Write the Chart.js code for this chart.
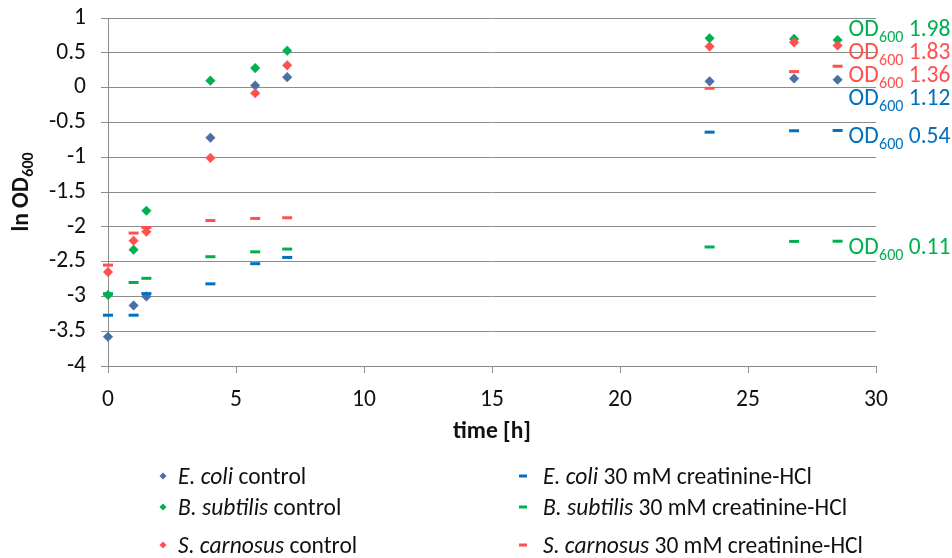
<!DOCTYPE html>
<html>
<head>
<meta charset="utf-8">
<script src="https://cdn.jsdelivr.net/npm/chart.js@4/dist/chart.umd.min.js"></script>
<style>
  html, body { margin: 0; padding: 0; background: #fff; }
  #wrap { position: relative; width: 952px; height: 558px; overflow: hidden; }
  #chart { position: absolute; left: 0; top: 0; }
  #legend { position: absolute; left: 0; top: 0; width: 952px; height: 558px; pointer-events: none;
            font-family: Carlito, "Open Sans", sans-serif; font-size: 23.5px; color: #111; }
  .item { position: absolute; white-space: nowrap; transform: translateY(-50%); line-height: 28px; }
  .mark { position: absolute; }
  .diamond { width: 5px; height: 5px; transform: translate(-50%, -50%) rotate(45deg); }
  .dash { width: 8px; height: 3px; transform: translate(-50%, -50%); }
</style>
</head>
<body>
<div id="wrap">
  <canvas id="chart" width="952" height="460"></canvas>
  <div id="legend"></div>
</div>
<script>
// Sampling times [h]
const hours = [0, 1, 1.5, 4, 5.75, 7, 23.5, 26.8, 28.5];

// Strains and growth conditions
const species = ['E. coli', 'B. subtilis', 'S. carnosus'];
const conditions = [' control', ' 30 mM creatinine-HCl'];

// ln OD600 per strain, without additive
const ecoliControl  = [-3.58, -3.13, -3.00, -0.72, 0.03, 0.15, 0.09, 0.13, 0.113];
const bsubControl   = [-2.98, -2.33, -1.77, 0.10, 0.28, 0.53, 0.71, 0.70, 0.683];
const scarnControl  = [-2.65, -2.20, -2.07, -1.01, -0.08, 0.32, 0.59, 0.65, 0.604];

// ln OD600 per strain, with 30 mM creatinine-HCl
const ecoliCreat    = [-3.27, -3.27, -2.96, -2.82, -2.53, -2.44, -0.64, -0.62, -0.616];
const bsubCreat     = [-2.96, -2.80, -2.74, -2.43, -2.36, -2.32, -2.29, -2.21, -2.207];
const scarnCreat    = [-2.55, -2.09, -2.01, -1.91, -1.88, -1.87, -0.01, 0.23, 0.307];

// Axis ranges
const yRange = { min: -4, max: 1, step: 0.5 };
const xRange = { min: 0, max: 30, step: 5 };

const FONT = 'Carlito, "Open Sans", sans-serif';
const FS = 23.5;
const TEXT = '#111';
const GRID = '#8c8c8c';

const BLUE_MARK = '#4a6fa8';
const BLUE = '#0070c0';
const GREEN = '#00b050';
const RED = '#ff5050';

function points(values) {
  return hours.map((h, i) => ({ x: h, y: values[i] }));
}

function controlSet(i, values, color) {
  return {
    label: species[i] + conditions[0],
    data: points(values),
    pointStyle: 'rectRot',
    pointRadius: 4.8,
    pointHoverRadius: 4.8,
    backgroundColor: color,
    borderColor: color,
    borderWidth: 0.5,
    clip: false,
    order: 10 - i
  };
}

function creatSet(i, values, color) {
  return {
    label: species[i] + conditions[1],
    data: points(values),
    pointStyle: 'line',
    pointRadius: 5,
    pointHoverRadius: 5,
    backgroundColor: color,
    borderColor: color,
    borderWidth: 3,
    clip: false,
    order: 10 - i - 3
  };
}

const datasets = [
  controlSet(0, ecoliControl, BLUE_MARK),
  controlSet(1, bsubControl, GREEN),
  controlSet(2, scarnControl, RED),
  creatSet(0, ecoliCreat, BLUE),
  creatSet(1, bsubCreat, GREEN),
  creatSet(2, scarnCreat, RED)
];
// colours for the end-point OD600 annotations
const labelColors = [BLUE, GREEN, RED, BLUE, GREEN, RED];

// Text with a "600" subscript after a main part
function drawSubText(ctx, x, y, main, sub, tail, bold, subShift) {
  const w = bold ? 'bold ' : '';
  ctx.font = w + FS + 'px ' + FONT;
  ctx.fillText(main, x, y);
  let cx = x + ctx.measureText(main).width + 0.5;
  ctx.font = w + Math.round(FS * 0.68) + 'px ' + FONT;
  ctx.fillText(sub, cx, y + subShift);
  cx += ctx.measureText(sub).width;
  if (tail) {
    ctx.font = w + FS + 'px ' + FONT;
    ctx.fillText(tail, cx, y);
  }
}
function subTextWidth(ctx, main, sub, tail, bold) {
  const w = bold ? 'bold ' : '';
  ctx.font = w + FS + 'px ' + FONT;
  let total = ctx.measureText(main).width + 0.5;
  ctx.font = w + Math.round(FS * 0.68) + 'px ' + FONT;
  total += ctx.measureText(sub).width;
  if (tail) { ctx.font = w + FS + 'px ' + FONT; total += ctx.measureText(tail).width; }
  return total;
}

// Final OD600 labels next to the last point of every series, spread so they don't collide
const endLabels = {
  id: 'endLabels',
  afterDatasetsDraw(chart) {
    const ctx = chart.ctx;
    const GAP = 23, DROP = 5;
    const items = chart.data.datasets.map((ds, i) => {
      const meta = chart.getDatasetMeta(i);
      const el = meta.data[meta.data.length - 1];
      const v = ds.data[ds.data.length - 1].y;
      return { x: el.x, want: el.y + DROP, od: Math.exp(v).toFixed(2), color: labelColors[i] };
    }).sort((a, b) => a.want - b.want);

    let groups = items.map(it => ({ items: [it], center: it.want }));
    let merged = true;
    while (merged) {
      merged = false;
      for (let i = 0; i < groups.length - 1; i++) {
        const g = groups[i], h = groups[i + 1];
        const gEnd = g.center + (g.items.length - 1) * GAP / 2;
        const hStart = h.center - (h.items.length - 1) * GAP / 2;
        if (hStart - gEnd < GAP) {
          const all = g.items.concat(h.items);
          const c = all.reduce((s, it) => s + it.want, 0) / all.length;
          groups.splice(i, 2, { items: all, center: c });
          merged = true;
          break;
        }
      }
    }
    ctx.save();
    ctx.textAlign = 'left';
    ctx.textBaseline = 'alphabetic';
    groups.forEach(g => {
      g.items.forEach((it, k) => {
        const y = g.center + (k - (g.items.length - 1) / 2) * GAP;
        ctx.fillStyle = it.color;
        drawSubText(ctx, it.x + 11, y + 7.5, 'OD', '600', ' ' + it.od, false, 6.5);
      });
    });
    ctx.restore();
  }
};

// Rotated y-axis title with subscript
const yTitle = {
  id: 'yTitle',
  afterDraw(chart) {
    const ctx = chart.ctx;
    const area = chart.chartArea;
    const cy = (area.top + area.bottom) / 2;
    ctx.save();
    ctx.translate(28, cy);
    ctx.rotate(-Math.PI / 2);
    ctx.fillStyle = TEXT;
    ctx.textAlign = 'left';
    ctx.textBaseline = 'alphabetic';
    const w = subTextWidth(ctx, 'ln OD', '600', '', true);
    drawSubText(ctx, -w / 2, 0, 'ln OD', '600', '', true, 5);
    ctx.restore();
  }
};

const chart = new Chart(document.getElementById('chart'), {
  type: 'scatter',
  data: { datasets },
  plugins: [endLabels, yTitle],
  options: {
    responsive: false,
    animation: false,
    devicePixelRatio: 1,
    layout: { padding: { top: 18, right: 76, bottom: 0, left: 0 } },
    plugins: { legend: { display: false }, tooltip: { enabled: false } },
    scales: {
      x: {
        type: 'linear',
        min: xRange.min, max: xRange.max,
        afterFit(s) { s.height = 94; },
        ticks: { stepSize: xRange.step, padding: 13, color: TEXT, font: { family: FONT, size: FS } },
        grid: { drawOnChartArea: false, drawTicks: true, tickLength: 7, color: GRID },
        border: { display: true, color: GRID },
        title: { display: true, text: 'time [h]', color: TEXT, padding: { top: 0, bottom: 14 },
                 font: { family: FONT, size: FS, weight: 'bold' } }
      },
      y: {
        type: 'linear',
        min: yRange.min, max: yRange.max,
        afterFit(s) { s.width = 108; s.paddingTop = 0; s.paddingBottom = 0; },
        ticks: { stepSize: yRange.step, padding: 15, color: TEXT, font: { family: FONT, size: FS },
                 callback: v => String(Math.round(v * 10) / 10) },
        grid: { color: GRID, tickLength: 7, lineWidth: 1 },
        border: { display: true, color: GRID }
      }
    }
  }
});

// Legend built from the datasets: two columns, species name in italics
(function buildLegend() {
  const host = document.getElementById('legend');
  const rowsY = [476, 507, 545];
  const cols = [{ mark: 163, text: 178 }, { mark: 523, text: 543 }];
  chart.data.datasets.forEach((ds, i) => {
    const col = cols[i < 3 ? 0 : 1];
    const row = rowsY[i % 3];
    const m = document.createElement('div');
    m.className = 'mark ' + (ds.pointStyle === 'line' ? 'dash' : 'diamond');
    m.style.left = col.mark + 'px';
    m.style.top = row + 'px';
    m.style.background = ds.backgroundColor;
    host.appendChild(m);
    const t = document.createElement('div');
    t.className = 'item';
    t.style.left = col.text + 'px';
    t.style.top = row + 'px';
    const it = document.createElement('i');
    it.textContent = species[i % 3];
    t.appendChild(it);
    t.appendChild(document.createTextNode(conditions[i < 3 ? 0 : 1]));
    host.appendChild(t);
  });
})();
</script>
</body>
</html>
